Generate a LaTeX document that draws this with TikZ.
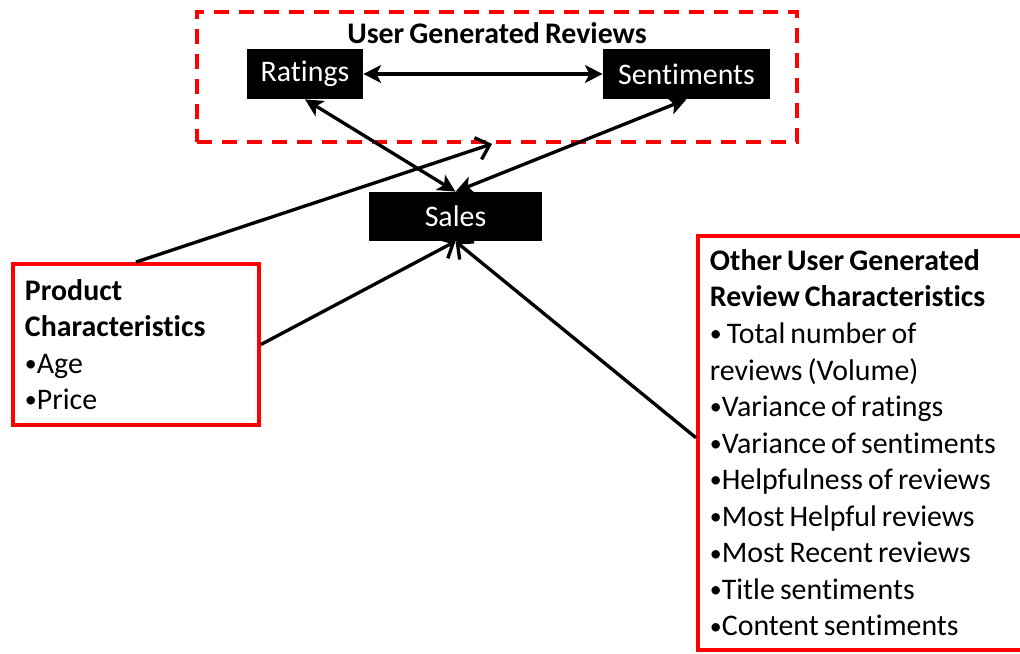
\documentclass[tikz,border=0pt]{standalone}
\usepackage{fontspec}
\setmainfont[Ligatures=NoCommon,WordSpace=0.75]{Carlito}
\usetikzlibrary{arrows.meta,positioning,shapes}
\tikzset{
        >={Stealth[length=10pt,width=10pt,inset=2.5pt]}, % filled arrow heads
        every node/.style={font=\fontsize{17}{20.8}\selectfont},
        link/.style={line width=1.9pt},
        open/.style={line width=1.9pt,-{Straight Barb[length=7pt,width=13pt,line width=1.9pt]}}, % open arrow heads
    }
\tikzstyle{blackbox}=[fill=black,text=white,inner sep=0pt]
\tikzstyle{redbox}=[draw=red,line width=2.2pt,align=flush left,inner xsep=0.24cm]
\newcommand{\bul}{\raisebox{0.12ex}{\scalebox{0.8}{•}}}

\begin{document}
\begin{tikzpicture}
    \useasboundingbox (0,0) rectangle (20.4,-13.08);
    % user generated reviews
    \node[draw=red,line width=2.2pt,dash pattern=on 8.5pt off 5.7pt,minimum width=12cm,minimum height=2.6cm] (ugr) at (9.94,-1.54) {};
    \node (title) at (9.94,-0.66) {\textbf{User Generated Reviews}};
    \node[blackbox,minimum width=2.32cm,minimum height=1cm] (ratings) at (6.1,-1.48) {Ratings};
    \node[blackbox,minimum width=3.34cm,minimum height=1cm] (sentiments) at (13.73,-1.48) {Sentiments};
    \node[blackbox,minimum width=3.46cm,minimum height=0.98cm] (sales) at (9.11,-4.33) {Sales};
    % characteristics
    \node[redbox,text width=4.44cm,minimum height=3.22cm] (product) at (2.72,-6.89)
        {\textbf{Product}\\\textbf{Characteristics}\\\bul Age\\\bul Price};
    \node[redbox,anchor=north west,text width=6.6cm,inner ysep=0.27cm] (other) at (13.92,-4.68)
        {\textbf{Other User Generated}\\\textbf{Review Characteristics}\\\bul\ Total number of\\reviews (Volume)\\\bul Variance of ratings\\\bul Variance of sentiments\\\bul Helpfulness of reviews\\\bul Most Helpful reviews\\\bul Most Recent reviews\\\bul Title sentiments\\\bul Content sentiments};

    \draw[link,<->] (ratings) -- (sentiments);
    \draw[link,<->] (sales.north) -- (ratings.south);
    \draw[link,<->] (sales.north) -- (sentiments.south);
    \draw[open] (product.north) -- ([xshift=-0.1cm]ugr.south);
    \draw[open] (product.east) -- (sales.south);
    \draw[open] ([yshift=0.1cm]other.west) -- (sales.south);
\end{tikzpicture}
\end{document}
